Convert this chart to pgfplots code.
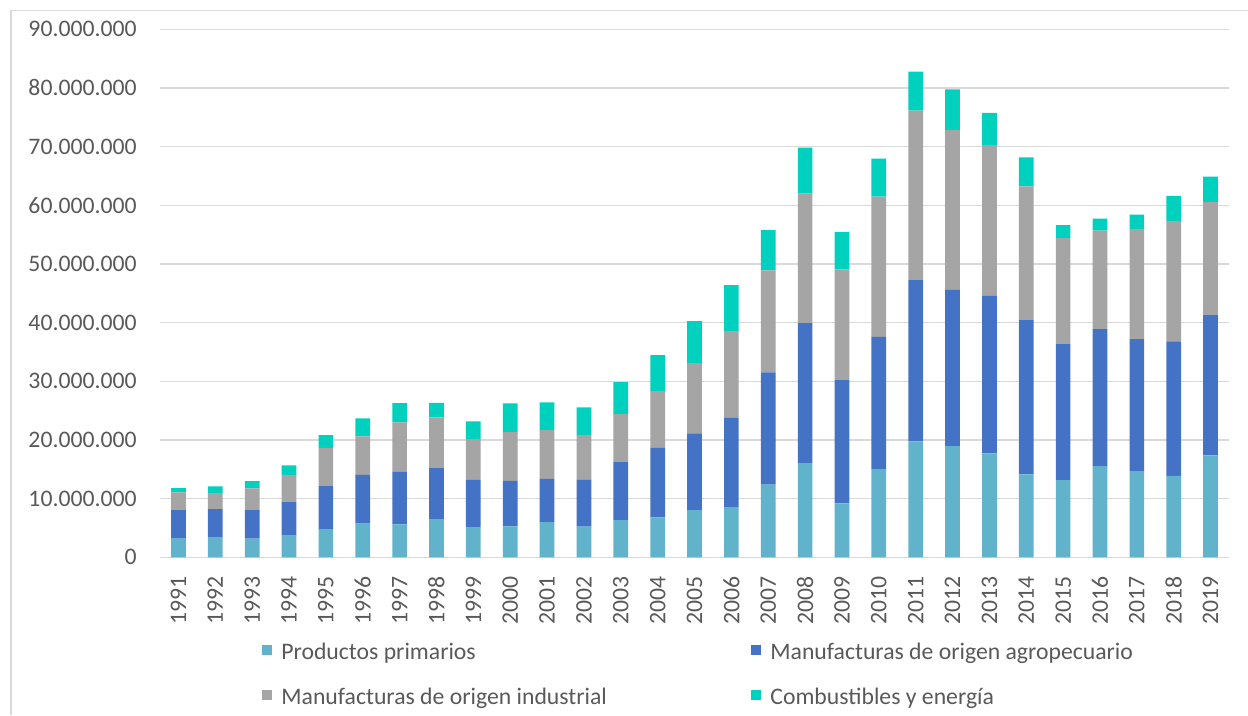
\documentclass[border=0pt]{standalone}
\usepackage{pgfplots}
\pgfplotsset{compat=1.18}
\usepackage{pgfplotstable}
\usepackage{fontspec}
\setmainfont{Carlito}
\definecolor{cprim}{RGB}{97,179,204}
\definecolor{cagro}{RGB}{68,114,196}
\definecolor{cind}{RGB}{165,165,165}
\definecolor{cfuel}{RGB}{0,209,191}
\definecolor{gridc}{RGB}{217,217,217}
\definecolor{txt}{RGB}{89,89,89}
\pgfplotstableread{
x P A I F
0 3.17 4.94 2.96 0.73
1 3.46 4.77 2.77 1.10
2 3.17 4.89 3.69 1.25
3 3.68 5.74 4.65 1.60
4 4.70 7.45 6.52 2.17
5 5.73 8.34 6.53 3.08
6 5.62 8.96 8.42 3.29
7 6.52 8.75 8.58 2.49
8 5.05 8.17 6.93 3.02
9 5.28 7.77 8.30 4.88
10 6.01 7.38 8.30 4.71
11 5.22 8.00 7.67 4.66
12 6.35 9.94 8.12 5.45
13 6.81 11.86 9.66 6.13
14 8.06 13.06 11.98 7.16
15 8.57 15.21 14.82 7.79
16 12.40 19.12 17.37 6.87
17 16.06 23.84 22.10 7.85
18 9.20 21.10 18.76 6.41
19 15.04 22.54 23.92 6.47
20 19.76 27.48 28.91 6.65
21 18.96 26.63 27.21 6.98
22 17.72 26.85 25.67 5.50
23 14.14 26.29 22.82 4.94
24 13.17 23.17 18.06 2.21
25 15.55 23.34 16.81 2.05
26 14.70 22.49 18.79 2.45
27 13.90 22.90 20.54 4.26
28 17.38 23.90 19.25 4.37
}\data
\begin{document}
\begin{tikzpicture}[x=1bp,y=1bp,font=\fontsize{11.9}{14}\selectfont]
\useasboundingbox (0,0) rectangle (624,357.5);
\draw[gridc, line width=0.75bp] (5.5,0) -- (5.5,352.25) -- (624,352.25);
\begin{axis}[
  at={(80bp,78.85bp)}, anchor=south west,
  scale only axis, width=534.5bp, height=264bp,
  ybar stacked, bar width=7.35bp,
  xmin=-0.5, xmax=28.5, ymin=0, ymax=90,
  xtick={0,1,...,28},
  xticklabels={1991,1992,1993,1994,1995,1996,1997,1998,1999,2000,2001,2002,2003,2004,2005,2006,2007,2008,2009,2010,2011,2012,2013,2014,2015,2016,2017,2018,2019},
  ytick={0,10,...,90},
  yticklabels={0,10.000.000,20.000.000,30.000.000,40.000.000,50.000.000,60.000.000,70.000.000,80.000.000,90.000.000},
  axis line style={draw=none},
  major tick length=0pt,
  ymajorgrids,
  major grid style={gridc, line width=0.75bp},
  xticklabel style={rotate=90, anchor=east, inner sep=0pt, text=txt},
  xticklabel shift=9.5bp,
  yticklabel style={anchor=east, inner sep=0pt, text=txt},
  yticklabel shift=11.5bp,
  legend columns=2,
  legend cell align=left,
  legend style={draw=none, fill=none, at={(axis description cs:0.0954,-0.1585)}, anchor=north west,
    inner sep=0pt, row sep=10.5bp, column sep=0pt,
    nodes={inner sep=0pt, text=txt, text height=9bp, text depth=3bp}},
  legend image code/.code={\fill[#1] (0bp,-1bp) rectangle (5bp,4bp); \path (9.5bp,0bp);},
]
\addplot[fill=cprim, draw=none] table[x=x,y=P] {\data};
\addlegendentry{\makebox[235bp][l]{Productos primarios}}
\addplot[fill=cagro, draw=none] table[x=x,y=A] {\data};
\addlegendentry{Manufacturas de origen agropecuario}
\addplot[fill=cind, draw=none] table[x=x,y=I] {\data};
\addlegendentry{\makebox[235bp][l]{Manufacturas de origen industrial}}
\addplot[fill=cfuel, draw=none] table[x=x,y=F] {\data};
\addlegendentry{Combustibles y energía}
\end{axis}
\end{tikzpicture}
\end{document}
